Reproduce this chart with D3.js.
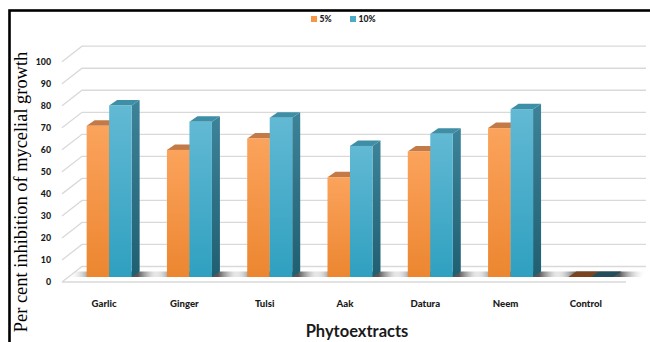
<!DOCTYPE html>
<html>
<head>
<meta charset="utf-8">
<script src="https://cdn.jsdelivr.net/npm/d3@7/dist/d3.min.js"></script>
<style>
  html, body { margin: 0; padding: 0; background: #fff; }
  svg { display: block; }
</style>
</head>
<body>
<svg id="chart" width="650" height="342"></svg>
<script>
// Phytoextract categories and per cent inhibition at two concentrations
const categories = ["Garlic", "Ginger", "Tulsi", "Aak", "Datura", "Neem", "Control"];
const series5 = [68.6, 57.7, 62.9, 45.3, 57.0, 67.6, 0];
const series10 = [77.9, 70.5, 72.3, 59.5, 65.0, 76.2, 0];
const seriesNames = ["5%", "10%"];
const yTicks = [0, 10, 20, 30, 40, 50, 60, 70, 80, 90, 100];

const svg = d3.select("#chart");
const defs = svg.append("defs");

// Front plane scales
const y = d3.scaleLinear().domain([0, 100]).range([282, 61.7]);
const x = d3.scaleBand().domain(categories).range([64, 626]).padding(0);

// Pseudo-3D offsets
const wall = { dx: 20, dy: -15.5 };   // back wall
const barOff = { dx: 5, dy: -5 };     // bar front relative to front plane
const depth = { dx: 8, dy: -5.5 };    // bar depth
const barW = 22.5;
const wallLeft = 62, wallRight = 646, floorRight = 626;
const sans = "Lato, 'Open Sans', sans-serif";

// Gradients
function vGrad(id, top, bottom) {
  const g = defs.append("linearGradient").attr("id", id)
    .attr("x1", 0).attr("y1", 0).attr("x2", 0).attr("y2", 1);
  g.append("stop").attr("offset", "0%").attr("stop-color", top);
  g.append("stop").attr("offset", "100%").attr("stop-color", bottom);
}
vGrad("gOrange", "#fba35c", "#ec8630");
vGrad("gTeal", "#62b9d4", "#2fa0c0");
vGrad("gTealSide", "#3c8399", "#205f72");
const sh = defs.append("linearGradient").attr("id", "gShadow")
  .attr("x1", 0).attr("y1", 0).attr("x2", 1).attr("y2", 0);
[[0, "#ffffff", 0], [0.28, "#444444", 0.9], [0.72, "#444444", 0.9], [1, "#ffffff", 0]]
  .forEach(([o, c, a]) => sh.append("stop").attr("offset", o).attr("stop-color", c).attr("stop-opacity", a));

// Chart frame
svg.append("rect").attr("x", 9.5).attr("y", 10.5).attr("width", 700).attr("height", 400)
  .attr("fill", "none").attr("stroke", "#000").attr("stroke-width", 2.6);

// Back wall gridlines and left wall diagonals
const grid = svg.append("g").attr("stroke", "#d9d9d9").attr("stroke-width", 1.3).attr("fill", "none");
yTicks.forEach(t => {
  const yf = y(t);
  grid.append("path").attr("d",
    `M${wallLeft},${yf}L${wallLeft + wall.dx},${yf + wall.dy}L${wallRight},${yf + wall.dy}`);
});
// Floor front edge
grid.append("line").attr("x1", wallLeft).attr("x2", floorRight)
  .attr("y1", y(0)).attr("y2", y(0)).attr("stroke-width", 1.6);

// Y tick labels
svg.append("g").selectAll("text").data(yTicks).join("text")
  .attr("x", 51).attr("y", d => y(d)).attr("dy", "0.35em")
  .attr("text-anchor", "end")
  .attr("font-family", sans).attr("font-weight", 900)
  .attr("font-size", 8.8).attr("fill", "#1a1a1a")
  .text(d => d);

// Bars
const rows = categories.map((c, i) => ({ c, v: [series5[i], series10[i]] }));
const faces = [
  { front: "url(#gOrange)", top: "#c47a46", topZero: "#7a4420", side: "#b56a30" },
  { front: "url(#gTeal)", top: "#3e8ea6", topZero: "#234d5a", side: "url(#gTealSide)" }
];
const base = y(0) + barOff.dy;

const barsG = svg.append("g");
rows.forEach(r => {
  const cx = x(r.c) + x.bandwidth() / 2 + barOff.dx;
  const left = cx - barW;
  const right = cx + barW;
  // floor shadow under the bar pair
  const s0 = left - 18, s1 = right + depth.dx + 20;
  barsG.append("path")
    .attr("d", `M${s0},${base}L${s1},${base}L${s1 + depth.dx * 0.6},${base + depth.dy}L${s0 + depth.dx * 0.6},${base + depth.dy}Z`)
    .attr("fill", "url(#gShadow)");
  r.v.forEach((v, k) => {
    const x0 = left + k * barW, x1 = x0 + barW;
    const yt = base - (y(0) - y(v));
    const f = faces[k];
    const g = barsG.append("g");
    g.append("path") // side
      .attr("d", `M${x1},${yt}L${x1 + depth.dx},${yt + depth.dy}L${x1 + depth.dx},${base + depth.dy}L${x1},${base}Z`)
      .attr("fill", f.side);
    g.append("path") // top
      .attr("d", `M${x0},${yt}L${x1},${yt}L${x1 + depth.dx},${yt + depth.dy}L${x0 + depth.dx},${yt + depth.dy}Z`)
      .attr("fill", v === 0 ? f.topZero : f.top);
    if (v > 0) {
      g.append("rect") // front
        .attr("x", x0).attr("y", yt).attr("width", barW).attr("height", base - yt)
        .attr("fill", f.front);
    }
  });
});

// Category labels
svg.append("g").selectAll("text").data(categories).join("text")
  .attr("x", d => x(d) + x.bandwidth() / 2).attr("y", 304).attr("dy", "0.35em")
  .attr("text-anchor", "middle")
  .attr("font-family", sans).attr("font-weight", 900)
  .attr("font-size", 9.6).attr("fill", "#1a1a1a")
  .text(d => d);

// Axis titles
svg.append("text").attr("x", 357).attr("y", 331).attr("dy", "0.35em")
  .attr("text-anchor", "middle")
  .attr("font-family", sans).attr("font-weight", 700)
  .attr("font-size", 16.5).attr("fill", "#1a1a1a")
  .text("Phytoextracts");

svg.append("text")
  .attr("transform", "translate(27,192) rotate(-90)")
  .attr("text-anchor", "middle")
  .attr("font-family", "'Liberation Serif', 'Times New Roman', serif")
  .attr("font-size", 18.4).attr("fill", "#000")
  .text("Per cent inhibition of mycelial growth");

// Legend
const legendColors = ["#f79646", "#4bacc6"];
const legend = svg.append("g").attr("font-family", sans)
  .attr("font-weight", 900).attr("font-size", 8.6).attr("fill", "#1a1a1a");
const lx = [311, 350];
seriesNames.forEach((n, i) => {
  legend.append("rect").attr("x", lx[i]).attr("y", 16).attr("width", 6).attr("height", 6)
    .attr("fill", legendColors[i]);
  legend.append("text").attr("x", lx[i] + 8.5).attr("y", 19).attr("dy", "0.35em").text(n);
});
</script>
</body>
</html>
